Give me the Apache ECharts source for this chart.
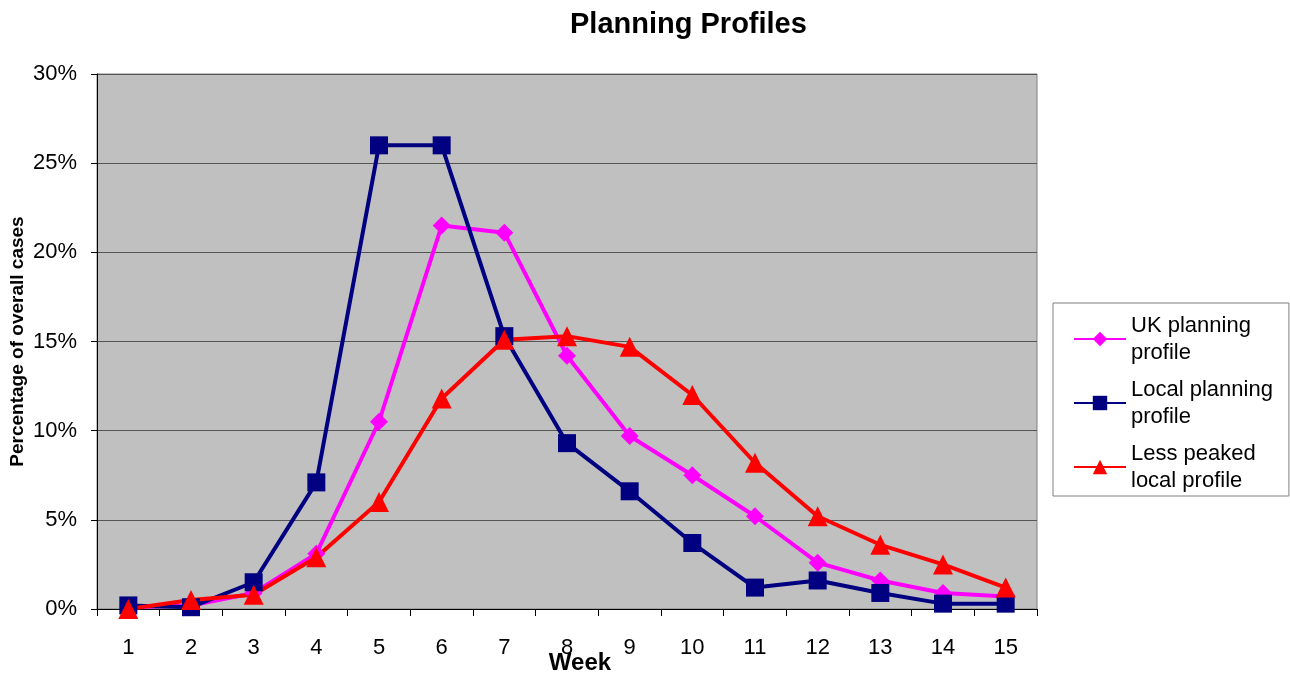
<!DOCTYPE html>
<html>
<head>
<meta charset="utf-8">
<script src="https://cdn.jsdelivr.net/npm/echarts@6/dist/echarts.min.js"></script>
<style>
  html, body { margin: 0; padding: 0; background: #ffffff; }
  #chart { width: 1290px; height: 674px; }
</style>
</head>
<body>
<div id="chart"></div>
<script>
// Weeks of the outbreak
const weeks = ['1','2','3','4','5','6','7','8','9','10','11','12','13','14','15'];

// Share of overall cases per week, in percent
const ukProfile    = [0.1, 0.2, 0.9, 3.1, 10.5, 21.5, 21.1, 14.2, 9.7, 7.5, 5.2, 2.6, 1.6, 0.9, 0.7];
const localProfile = [0.2, 0.1, 1.5, 7.1, 26.0, 26.0, 15.3, 9.3, 6.6, 3.7, 1.2, 1.6, 0.9, 0.3, 0.3];
const lessPeaked   = [0.0, 0.5, 0.8, 2.9, 6.0, 11.8, 15.1, 15.3, 14.7, 12.0, 8.2, 5.2, 3.6, 2.5, 1.2];

const seriesNames = ['UK planning\nprofile', 'Local planning\nprofile', 'Less peaked\nlocal profile'];

const FONT = 'Liberation Sans, Arial, sans-serif';

const chart = echarts.init(document.getElementById('chart'), null, { renderer: 'canvas' });

function lineSeries(name, data, color, symbol, size) {
  return {
    name: name,
    type: 'line',
    data: data,
    symbol: symbol,
    symbolSize: size,
    showAllSymbol: true,
    lineStyle: { color: color, width: 4 },
    itemStyle: { color: color },
    emphasis: { disabled: true },
    animation: false
  };
}

chart.setOption({
  animation: false,
  backgroundColor: '#ffffff',
  title: {
    text: 'Planning Profiles',
    left: 565,
    top: 5,
    textStyle: { fontFamily: FONT, fontSize: 29, fontWeight: 'bold', color: '#000' }
  },
  grid: {
    left: 97, top: 74, right: 253, bottom: 65,
    outerBoundsMode: 'none',
    containLabel: false,
    show: true,
    backgroundColor: '#c0c0c0',
    borderColor: '#808080',
    borderWidth: 1
  },
  legend: {
    orient: 'vertical',
    left: 1053,
    top: 303,
    padding: [9, 16, 2, 20],
    itemGap: 10,
    itemWidth: 52,
    itemHeight: 18,
    backgroundColor: '#ffffff',
    borderColor: '#808080',
    borderWidth: 1,
    borderRadius: 0,
    data: seriesNames,
    textStyle: { fontFamily: FONT, fontSize: 22, color: '#000', lineHeight: 27 }
  },
  xAxis: {
    type: 'category',
    data: weeks,
    boundaryGap: true,
    name: 'Week',
    nameLocation: 'middle',
    nameGap: 42,
    nameMoveOverlap: false,
    nameTextStyle: { fontFamily: FONT, fontSize: 24, fontWeight: 'bold', color: '#000', padding: [0, 0, 0, 26] },
    axisLine: { lineStyle: { color: '#000', width: 1 } },
    axisTick: { show: true, alignWithLabel: false, length: 7, lineStyle: { color: '#000' } },
    axisLabel: { fontFamily: FONT, fontSize: 22, color: '#000', margin: 28 },
    splitLine: { show: false }
  },
  yAxis: {
    type: 'value',
    min: 0,
    max: 30,
    interval: 5,
    name: 'Percentage of overall cases',
    nameLocation: 'middle',
    nameRotate: 90,
    nameGap: 70,
    nameMoveOverlap: false,
    nameTextStyle: { fontFamily: FONT, fontSize: 19, fontWeight: 'bold', color: '#000' },
    axisLine: { show: true, lineStyle: { color: '#000', width: 1 } },
    axisTick: { show: true, length: 6, lineStyle: { color: '#000' } },
    axisLabel: { fontFamily: FONT, fontSize: 22, color: '#000', margin: 20, formatter: '{value}%' },
    splitLine: { show: true, lineStyle: { color: '#555555', width: 1 } }
  },
  series: [
    lineSeries(seriesNames[0], ukProfile, '#ff00ff', 'diamond', 18),
    lineSeries(seriesNames[1], localProfile, '#000080', 'rect', 18),
    lineSeries(seriesNames[2], lessPeaked, '#ff0000', 'triangle', 20)
  ]
});
</script>
</body>
</html>
